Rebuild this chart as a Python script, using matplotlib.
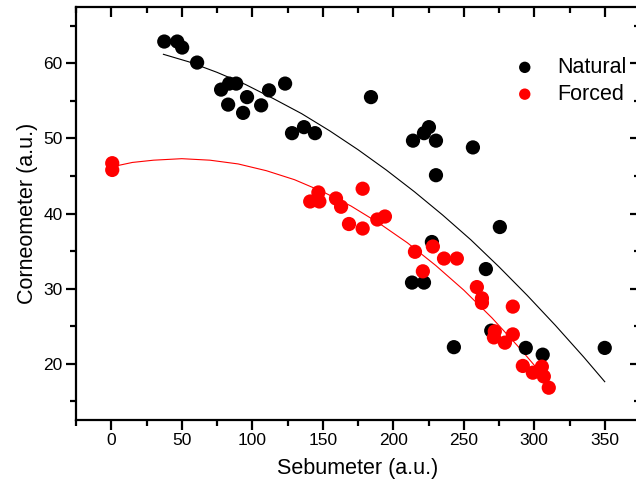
"""
Corneometer against Sebumeter readings for natural and forced skin
conditions, each with its fitted trend curve.

Output
------
    out.png
"""

import matplotlib
matplotlib.use("Agg")
import matplotlib.pyplot as plt
from matplotlib.ticker import MultipleLocator


# Natural condition, (sebumeter, corneometer) read point by point.
natural_x = [37.6, 46.8, 50.3, 60.9, 77.9, 83.6, 88.6, 82.9, 93.5, 96.3,
             106.3, 111.9, 123.3, 128.2, 136.7, 144.5, 184.2, 214.0, 221.8,
             225.3, 230.3, 230.3, 256.5, 275.6, 227.4, 265.7, 213.3, 221.8,
             243.0, 269.5, 294.0, 306.0, 350.0]
natural_y = [62.9, 62.9, 62.1, 60.1, 56.5, 57.3, 57.3, 54.5, 53.4, 55.5,
             54.4, 56.4, 57.3, 50.7, 51.5, 50.7, 55.5, 49.7, 50.7,
             51.5, 49.7, 45.1, 48.8, 38.2, 36.2, 32.6, 30.8, 30.8,
             22.2, 24.4, 22.1, 21.2, 22.1]

# Forced condition.
forced_x = [0.7, 0.7, 141.1, 146.9, 147.6, 159.4, 163.0, 168.6, 178.3, 178.3,
            188.7, 194.1, 215.4, 221.0, 228.1, 236.0, 245.1, 259.3, 262.9,
            262.9, 271.4, 272.0, 279.2, 284.8, 284.8, 291.9, 299.0, 305.4,
            306.8, 310.3]
forced_y = [46.7, 45.8, 41.6, 42.8, 41.6, 42.0, 40.9, 38.6, 43.3, 38.0,
            39.2, 39.6, 34.9, 32.3, 35.6, 34.0, 34.0, 30.2, 28.7,
            28.1, 23.5, 24.3, 22.8, 23.9, 27.6, 19.7, 18.8, 19.6,
            18.3, 16.8]

# Fitted trend curves.
natural_fit_x = [37, 55, 75, 95, 115, 135, 155, 175, 195, 215, 235, 255,
                 275, 295, 315, 335, 350]
natural_fit_y = [61.2, 60.2, 58.8, 57.2, 55.3, 53.3, 51.0, 48.5, 45.8, 42.9,
                 39.8, 36.5, 32.9, 29.1, 25.1, 20.9, 17.6]
forced_fit_x = [0, 15, 30, 50, 70, 90, 110, 130, 150, 170, 190, 210, 230,
                250, 270, 290, 310]
forced_fit_y = [46.2, 46.8, 47.1, 47.3, 47.1, 46.6, 45.7, 44.5, 42.9, 41.0,
                38.7, 36.1, 33.1, 29.8, 26.1, 22.0, 17.6]

series_labels = ["Natural", "Forced"]

BLACK = "#000000"
RED = "#ff0000"
FONT = "Liberation Sans"


def plot_chart(path="out.png"):
    plt.rcParams["font.family"] = [FONT, "DejaVu Sans"]

    fig = plt.figure(figsize=(6.36, 4.88), dpi=100)
    # right spine sits just past the image edge, as in the original
    ax = fig.add_axes([76 / 636, 68 / 488, 564 / 636, 413 / 488])

    ax.plot(natural_fit_x, natural_fit_y, color=BLACK, lw=0.8, zorder=2)
    ax.plot(forced_fit_x, forced_fit_y, color=RED, lw=0.8, zorder=2)

    ax.scatter(natural_x, natural_y, s=105, color=BLACK, edgecolors="none",
               label=series_labels[0], zorder=3)
    ax.scatter(forced_x, forced_y, s=105, color=RED, edgecolors="none",
               label=series_labels[1], zorder=4)

    ax.set_xlim(-25, 375)
    ax.set_ylim(12.5, 67.5)
    ax.xaxis.set_major_locator(MultipleLocator(50))
    ax.xaxis.set_minor_locator(MultipleLocator(25))
    ax.yaxis.set_major_locator(MultipleLocator(10))
    ax.yaxis.set_minor_locator(MultipleLocator(5))

    for side in ax.spines.values():
        side.set_linewidth(1.6)

    ax.tick_params(which="both", direction="out", width=1.6,
                   labelsize=12.5, pad=6)
    ax.tick_params(which="major", length=7)
    ax.tick_params(which="minor", length=4.5)
    # Origin style: mirrored ticks point inward on top and right
    ax.tick_params(which="both", top=True, right=True)
    ax.xaxis.set_tick_params(which="both", direction="inout")
    ax.yaxis.set_tick_params(which="both", direction="inout")
    for t in ax.xaxis.get_major_ticks() + ax.xaxis.get_minor_ticks():
        t.tick1line.set_marker(3)  # down
        t.tick2line.set_marker(3)  # down from top
    for t in ax.yaxis.get_major_ticks() + ax.yaxis.get_minor_ticks():
        t.tick1line.set_marker(0)  # left
        t.tick2line.set_marker(0)  # left from right

    ax.set_xlabel("Sebumeter (a.u.)", fontsize=15.5, labelpad=7)
    ax.set_ylabel("Corneometer (a.u.)", fontsize=15.5, labelpad=4)

    ax.legend(loc="upper left", bbox_to_anchor=(514 / 636, 1 - 57 / 488),
              bbox_transform=fig.transFigure, frameon=False, fontsize=15.5,
              handlelength=1.0, handletextpad=1.0, labelspacing=0.27,
              borderpad=0, borderaxespad=0, markerscale=0.8)

    fig.savefig(path, dpi=100)
    plt.close(fig)
    return path


if __name__ == "__main__":
    print("Saved", plot_chart())
